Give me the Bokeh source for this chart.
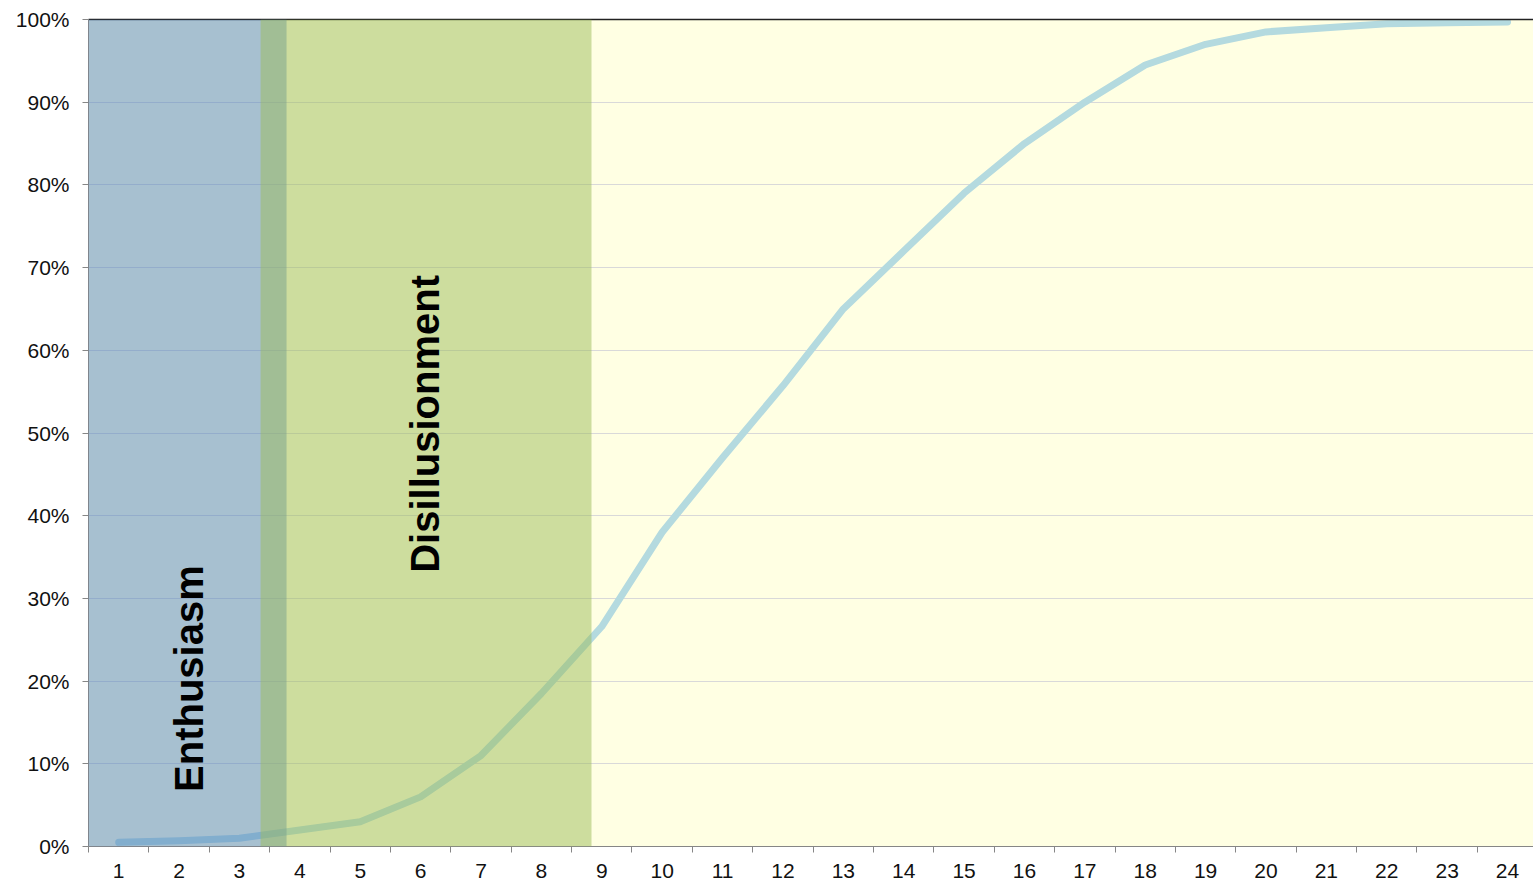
from bokeh.plotting import figure
from bokeh.models import (Range1d, FixedTicker, NumeralTickFormatter, BoxAnnotation,
                          Label, LinearAxis)
from bokeh.embed import file_html
from bokeh.resources import INLINE
import math

# Months since launch and cumulative share of adoption
months = list(range(1, 25))
adoption = [0.005, 0.007, 0.010, 0.020, 0.030, 0.060, 0.110, 0.185, 0.266, 0.380,
            0.470, 0.557, 0.650, 0.720, 0.790, 0.850, 0.900, 0.945, 0.970, 0.985,
            0.990, 0.995, 0.996, 0.997]

# Phases along the month axis: name, start, end, colour
phase_names = ["Enthusiasm", "Disillusionment"]
phase_start = [0.5, 3.35]
phase_end = [3.78, 8.83]
phase_colors = ["#4F81BD", "#9BBB59"]

y_ticks = [i / 10 for i in range(11)]

p = figure(width=1533, height=886, output_backend="svg", toolbar_location=None,
           x_range=Range1d(0.5, 24.43), y_range=Range1d(0, 1),
           min_border_left=88, min_border_right=0, min_border_top=19,
           min_border_bottom=40, background_fill_color="#FFFFE3",
           border_fill_color="white", outline_line_color=None)

# x axis: labels on the months, tick marks between them
xa = p.xaxis[0]
xa.ticker = FixedTicker(ticks=months, minor_ticks=[m - 0.5 for m in months] + [24.5])
xa.major_tick_line_color = None
xa.minor_tick_in = 0
xa.minor_tick_out = 6
xa.minor_tick_line_color = "#868686"
xa.axis_line_color = "#868686"
xa.major_label_text_font = "Liberation Sans"
xa.major_label_text_font_size = "21px"
xa.major_label_text_color = "#111111"
xa.major_label_standoff = 11

ya = p.yaxis[0]
ya.ticker = FixedTicker(ticks=y_ticks)
ya.formatter = NumeralTickFormatter(format="0%")
ya.major_tick_in = 0
ya.major_tick_out = 6
ya.minor_tick_line_color = None
ya.major_tick_line_color = "#868686"
ya.axis_line_color = "#868686"
ya.major_label_text_font = "Liberation Sans"
ya.major_label_text_font_size = "21px"
ya.major_label_text_color = "#111111"
ya.major_label_standoff = 13

# dark rule along the top of the plot area
top = LinearAxis(major_tick_line_color=None, minor_tick_line_color=None,
                 major_label_text_font_size="0px", axis_line_color="#222222",
                 axis_line_width=1.5, ticker=FixedTicker(ticks=[]))
p.add_layout(top, "above")

p.xgrid.grid_line_color = None
p.ygrid.grid_line_color = "#D9D9D9"
p.ygrid.ticker = FixedTicker(ticks=y_ticks)

p.line(months, adoption, line_color="#B4DADF", line_width=7, line_cap="round",
       line_join="round")

for start, end, col in zip(phase_start, phase_end, phase_colors):
    p.add_layout(BoxAnnotation(left=start, right=end, fill_color=col, fill_alpha=0.5,
                               line_color=None))

label_pos = [(2.16, 0.203), (6.08, 0.511)]
for name, (lx, ly) in zip(phase_names, label_pos):
    p.add_layout(Label(x=lx, y=ly, text=name, angle=math.pi / 2,
                       text_align="center", text_baseline="middle",
                       text_font="Liberation Sans", text_font_style="bold",
                       text_font_size="40px", text_color="black"))

open("out.html", "w").write(file_html(p, INLINE))
